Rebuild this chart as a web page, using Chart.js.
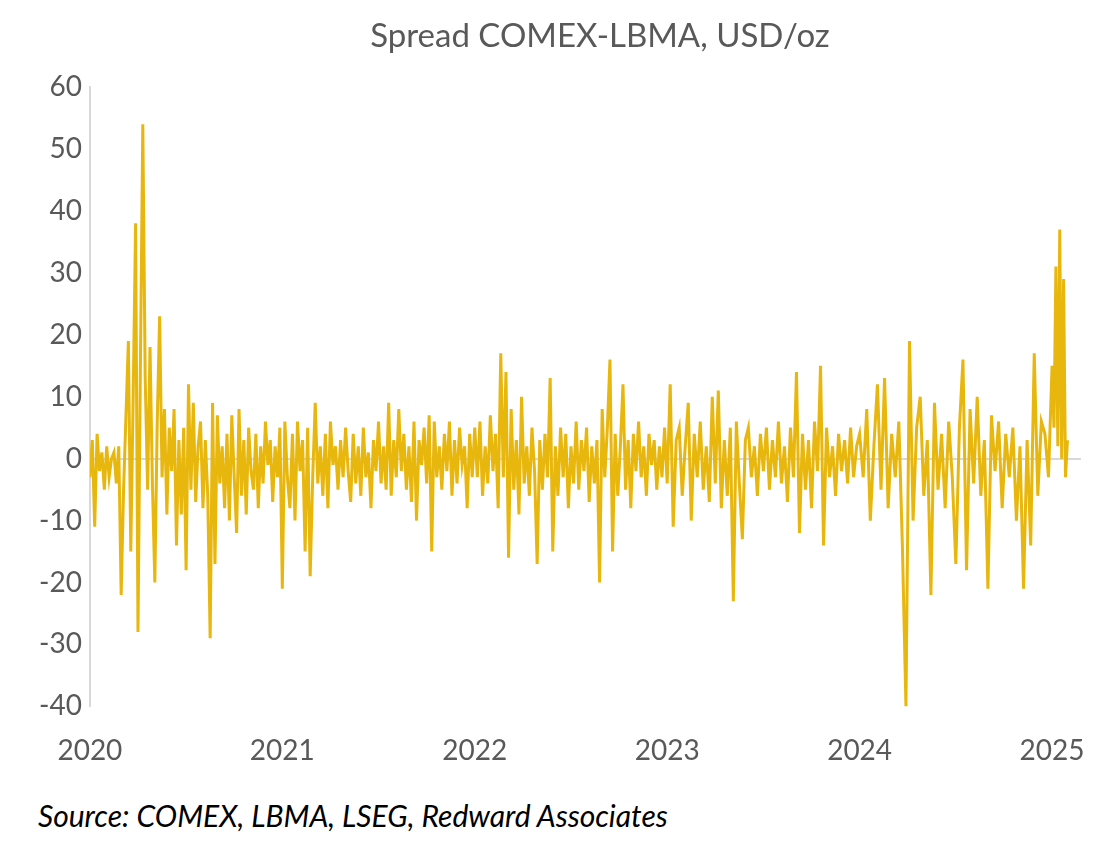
<!DOCTYPE html>
<html>
<head>
<meta charset="utf-8">
<script src="https://cdn.jsdelivr.net/npm/chart.js@4.4.1/dist/chart.umd.min.js"></script>
<style>
  body { margin: 0; background: #fff; font-family: Lato, sans-serif; }
  #wrap { position: relative; width: 1105px; height: 788px; }
  #titulo { position: absolute; left: 0; width: 1200px; top: 14px; text-align: center; font-size: 33px; color: #595959; }
  #source { position: absolute; left: 38px; top: 797px; font-size: 30px; font-style: italic; color: #000; }
</style>
</head>
<body>
<div id="wrap"><canvas id="grafico" width="1105" height="788"></canvas></div>
<div id="titulo">Spread COMEX-LBMA, USD/oz</div>
<div id="source">Source: COMEX, LBMA, LSEG, Redward Associates</div>
<script>
// spread COMEX-LBMA, USD/oz (about two points per week)
const spread2020 = [-3,3,-11,4,-2,1,-5,2,-3,0,1,-4,2,-22,-5,7,19,-15,10,38,-28,15,54,13,-5,18,-4,-20,6,23,-3,8,-9,5,-2,8,-14,3,-9,5,-18,12,-5,9,-7,2,6,-8,3,-6,-29,9,-17,7,-4,2,-8,4,-10,7,-3,-12,8,-6,3,-9,5,-2,-5,4,-8,2,-4,6,-1,3,-7,2,-3,5];
const spread2021 = [-21,6,-3,-8,4,-10,6,-2,3,-15,5,-19,-3,9,-4,2,-6,4,-8,6,-1,2,-5,3,-3,5,-2,-7,4,-4,2,-6,5,-3,1,-8,3,-2,6,-4,2,-5,9,-6,3,-3,8,-2,4,-5,2,-7,6,-10,3,-1,5,-4,7,-15,6,-3,2,-5,4,-2,6,-6,3,-4,5,-1,2,-8,4,-3];
const spread2022 = [5,-3,6,-6,2,-4,7,-2,4,-8,17,-3,14,-16,8,-5,3,-9,10,-4,2,-6,5,-2,-17,3,-5,4,-3,13,-15,2,-6,5,-3,4,-8,2,-4,6,-5,3,-2,5,-7,2,-4,3,-20,8,-3,5,16,-15,4,-6,2,12,-5,3,-8,4,-2,6,-3,2,-6,4,-1,3,-5,2,-3,5];
const spread2023 = [-4,12,-11,3,5,-6,2,9,-10,4,-3,6,-5,2,-7,10,-4,11,-8,3,-6,5,-23,6,-4,-13,3,5,-3,2,-6,4,-2,5,-5,3,-3,6,-4,2,-7,5,-3,14,-12,4,-5,3,-8,6,-2,15,-14,5,-3,2,-6,4,-2,3,-4,5,-3,2];
const spread2024 = [4,-3,8,-10,2,12,-5,13,-8,4,-3,6,-14,-40,19,-10,5,10,-6,3,-22,9,-5,4,-8,6,-3,-17,5,16,-18,8,-4,10,-6,3,-21,7,-2,6,-8,4,-3,5,-10,2,-21,3,-14,17,-6,6,4,-3];
const spread2025 = [15,5,31,2,37,0,29,-3,3]; // Jan - early Feb
const anos = [2020, 2021, 2022, 2023, 2024, 2025];
const yTicks = [-40, -30, -20, -10, 0, 10, 20, 30, 40, 50, 60];

const porAno = [spread2020, spread2021, spread2022, spread2023, spread2024, spread2025];
const pontos = [];
porAno.forEach((vals, k) => {
  const span = anos[k] === 2025 ? 0.09 : 1;
  vals.forEach((v, i) => pontos.push({ x: anos[k] + span * i / vals.length, y: v }));
});

const cinza = '#595959';

new Chart(document.getElementById('grafico'), {
  type: 'line',
  data: {
    datasets: [{
      data: pontos,
      borderColor: '#E8B70E',
      borderWidth: 3,
      pointRadius: 0,
      tension: 0
    }]
  },
  options: {
    responsive: false,
    animation: false,
    devicePixelRatio: 1,
    layout: { padding: { left: 31, right: 16, top: 87, bottom: 0 } },
    plugins: {
      legend: { display: false },
      tooltip: { enabled: false }
    },
    scales: {
      x: {
        type: 'linear',
        min: 2020,
        max: 2025.15,
        afterBuildTicks: axis => { axis.ticks = anos.map(v => ({ value: v })); },
        ticks: { color: cinza, font: { family: 'Lato', size: 28 }, callback: v => String(v), maxRotation: 0, padding: 20 },
        grid: { display: false },
        border: { display: false }
      },
      y: {
        min: -40,
        max: 60,
        afterBuildTicks: axis => { axis.ticks = yTicks.map(v => ({ value: v })); },
        ticks: { color: cinza, font: { family: 'Lato', size: 28 }, padding: 8 },
        grid: {
          drawTicks: false,
          color: ctx => ctx.tick && ctx.tick.value === 0 ? '#d9d9d9' : 'rgba(0,0,0,0)',
          lineWidth: 2
        },
        border: { display: true, color: '#d9d9d9', width: 2 }
      }
    }
  }
});
</script>
</body>
</html>
